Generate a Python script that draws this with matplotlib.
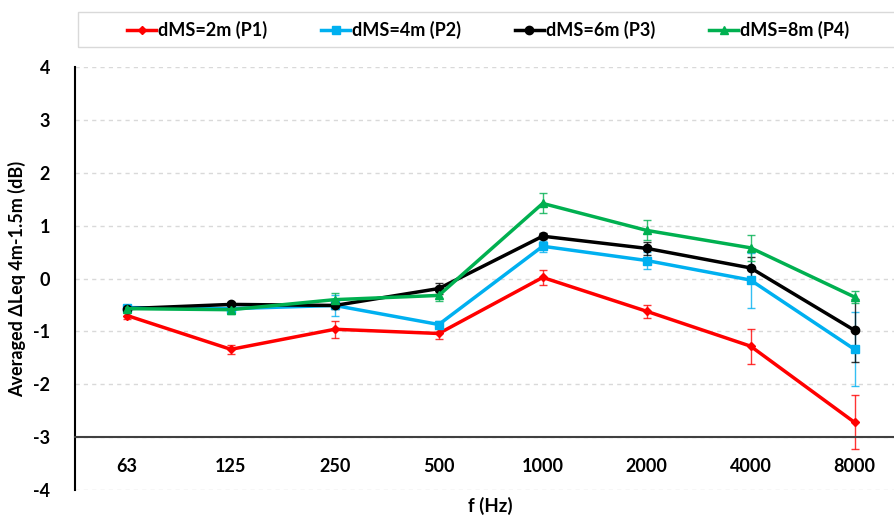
import matplotlib.pyplot as plt
import numpy as np
from matplotlib.patches import Rectangle

# octave band centre frequencies (Hz)
freqs = ['63', '125', '250', '500', '1000', '2000', '4000', '8000']

# averaged level difference 4 m - 1.5 m (dB) and std dev per microphone distance
p1 = [-0.70, -1.34, -0.96, -1.04, 0.02, -0.62, -1.28, -2.72]
p1_err = [0.07, 0.08, 0.16, 0.10, 0.14, 0.12, 0.33, 0.51]
p2 = [-0.55, -0.57, -0.51, -0.87, 0.61, 0.34, -0.03, -1.34]
p2_err = [0.05, 0.05, 0.20, 0.07, 0.10, 0.16, 0.52, 0.70]
p3 = [-0.57, -0.49, -0.51, -0.19, 0.80, 0.57, 0.20, -0.98]
p3_err = [0.05, 0.05, 0.06, 0.10, 0.06, 0.12, 0.20, 0.60]
p4 = [-0.57, -0.59, -0.40, -0.32, 1.42, 0.91, 0.58, -0.35]
p4_err = [0.05, 0.08, 0.13, 0.10, 0.19, 0.19, 0.24, 0.12]

labels = ['dMS=2m (P1)', 'dMS=4m (P2)', 'dMS=6m (P3)', 'dMS=8m (P4)']
colors = ['#FF0000', '#00B0F0', '#000000', '#00B050']
markers = ['D', 's', 'o', '^']
msizes = [4, 6, 6, 6]

plt.rcParams['font.family'] = ['Lato', 'DejaVu Sans']
plt.rcParams['font.weight'] = 'bold'
plt.rcParams['axes.unicode_minus'] = False

fig = plt.figure(figsize=(8.94, 5.22), dpi=100)
ax = fig.add_axes([75/894, 1 - 490/522, (894 - 75)/894, (490 - 67)/522])

x = np.arange(len(freqs))
series = [(p1, p1_err), (p2, p2_err), (p3, p3_err), (p4, p4_err)]
handles = []
for (vals, err), c, m, ms, lab in zip(series, colors, markers, msizes, labels):
    ax.errorbar(x, vals, yerr=err, color=c, lw=1, capsize=3, capthick=1,
                fmt='none', alpha=0.8, zorder=2)
    h, = ax.plot(x, vals, color=c, lw=2.5, marker=m, ms=ms, label=lab, zorder=3)
    handles.append(h)

ax.set_xlim(-0.5, 7.38)
ax.set_ylim(-4, 4)
ax.set_yticks(range(-4, 5))
ax.set_xticks(x)
ax.set_xticklabels(freqs)
ax.yaxis.grid(True, ls=(0, (3, 3)), color='#D9D9D9', lw=1)
ax.set_axisbelow(True)

for s in ['top', 'right']:
    ax.spines[s].set_visible(False)
ax.spines['bottom'].set_position(('data', -3))
ax.spines['bottom'].set_color('#404040')
ax.spines['bottom'].set_linewidth(1.5)
ax.spines['left'].set_linewidth(1.5)
ax.tick_params(axis='x', length=0, pad=15, labelsize=13)
ax.tick_params(axis='y', length=0, pad=18, labelsize=13)

ax.set_ylabel('Averaged \u0394Leq 4m-1.5m (dB)', fontsize=13, fontweight='bold', labelpad=5)
fig.text(490/894, 1 - 506/522, 'f (Hz)', ha='center', va='center',
         fontsize=13.5, fontweight='bold')

# legend box across the top
fig.patches.append(Rectangle((78/894, 1 - 47/522), 830/894, 35/522,
                             transform=fig.transFigure, fill=False,
                             edgecolor='#D9D9D9', lw=1))
fig.legend(handles=handles, loc='center', bbox_to_anchor=(488/894, 1 - 30/522),
           ncol=4, frameon=False, fontsize=13, handlelength=1.6,
           handletextpad=0.1, columnspacing=3.0)

fig.savefig('out.png', dpi=100)
